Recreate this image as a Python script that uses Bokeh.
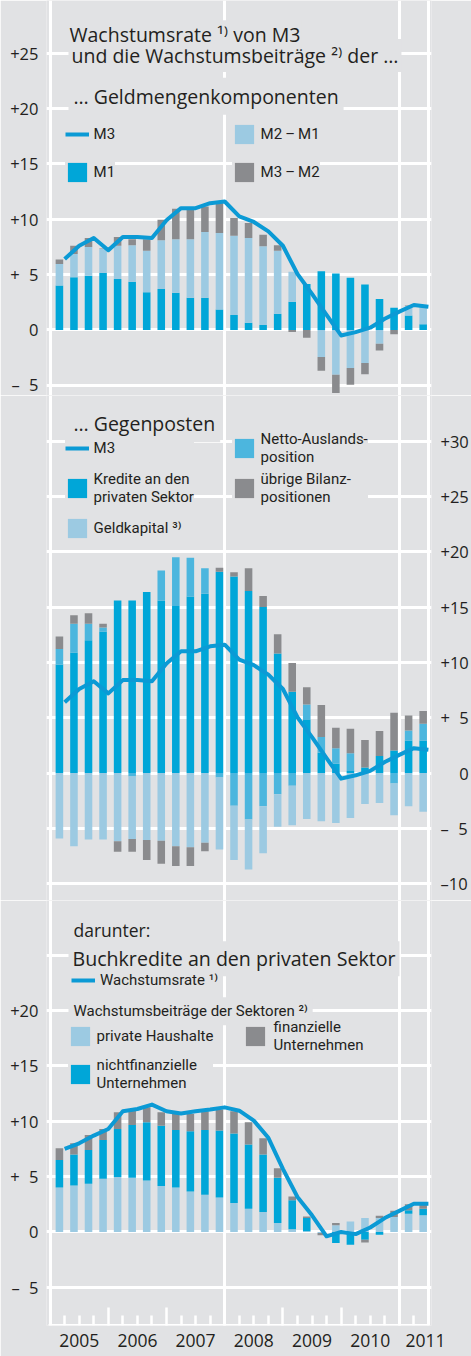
import numpy as np
from bokeh.plotting import figure
from bokeh.layouts import column
from bokeh.models import Range1d, FixedTicker, LinearAxis, Label, Legend, LegendItem
from bokeh.embed import file_html
from bokeh.resources import INLINE

# ---------------- data ----------------
quarters = ["2005Q1", "2005Q2", "2005Q3", "2005Q4",
            "2006Q1", "2006Q2", "2006Q3", "2006Q4",
            "2007Q1", "2007Q2", "2007Q3", "2007Q4",
            "2008Q1", "2008Q2", "2008Q3", "2008Q4",
            "2009Q1", "2009Q2", "2009Q3", "2009Q4",
            "2010Q1", "2010Q2", "2010Q3", "2010Q4",
            "2011Q1", "2011Q2"]
years = ["2005", "2006", "2007", "2008", "2009", "2010", "2011"]

# panel 1: M3 growth and contributions of monetary components
m3 = [6.4, 7.6, 8.3, 7.2, 8.4, 8.4, 8.3, 9.9, 11.0, 11.0, 11.45, 11.6, 10.25,
      9.75, 8.9, 7.6, 5.05, 3.25, 1.35, -0.5, -0.2, 0.2, 1.0, 1.65, 2.25, 2.1]
m1 = [4.0, 4.75, 4.9, 5.15, 4.6, 4.35, 3.4, 3.7, 3.35, 2.9, 2.9, 1.85, 1.35,
      0.65, 0.45, 1.45, 2.55, 4.15, 5.3, 5.1, 4.7, 4.1, 2.8, 2.0, 1.3, 0.5]
m2_m1 = [1.95, 2.1, 2.6, 2.15, 3.0, 3.3, 3.75, 4.4, 4.85, 5.3, 5.95, 6.9, 7.15,
         7.65, 7.1, 5.7, 2.7, 0.0, -2.45, -4.05, -3.45, -3.0, -1.25, 0.0, 0.85, 1.55]
m3_m2 = [0.4, 0.75, 0.8, 0.05, 0.8, 0.55, 1.05, 1.85, 2.75, 2.65, 2.3, 2.7, 1.6,
         1.35, 1.05, 0.5, -0.2, -0.7, -1.25, -1.65, -1.5, -1.0, -0.6, -0.4, 0.05, 0.0]

# panel 2: counterparts
kredite = [9.8, 10.9, 12.0, 12.8, 15.6, 15.6, 16.35, 15.6, 15.1, 15.95, 16.2, 18.2, 17.75,
           16.45, 15.0, 10.8, 7.35, 4.8, 1.85, 0.85, 0.2, 0.5, 1.55, 2.05, 2.95, 2.95]
netto = [1.4, 2.6, 1.5, 0.35, 0.0, -0.3, 0.0, 2.7, 4.4, 3.5, 2.3, -0.4, -2.95,
         -4.2, -3.0, -1.9, -1.15, 1.4, 1.4, 1.4, 1.6, 0.0, 0.0, -0.95, 0.9, 1.5]
geldkapital = [-5.9, -6.6, -6.0, -6.0, -6.15, -5.65, -6.05, -6.1, -6.6, -6.7, -6.3, -6.5, -4.9,
               -4.5, -4.25, -2.95, -3.55, -4.15, -4.35, -4.5, -4.05, -2.8, -2.7, -2.85, -3.0, -3.5]
uebrige = [1.15, 0.75, 0.95, 0.35, -0.95, -1.15, -1.8, -2.1, -1.8, -1.7, -0.75, 0.35, 0.4,
           2.05, 1.0, 1.75, 2.6, 1.55, 2.9, 1.85, 2.2, 2.5, 2.25, 3.4, 1.35, 1.15]

# panel 3: loans to the private sector
buch_rate = [7.5, 8.0, 8.7, 9.3, 10.9, 11.1, 11.5, 10.9, 10.7, 10.9, 11.05, 11.25, 10.95,
             10.05, 8.5, 5.7, 3.15, 1.5, -0.4, 0.0, -0.2, 0.4, 1.25, 1.9, 2.55, 2.55]
haushalte = [4.0, 4.2, 4.35, 4.8, 4.95, 4.9, 4.65, 4.15, 4.0, 3.65, 3.35, 3.1, 2.6,
             2.1, 1.8, 0.8, 0.25, 0.05, -0.1, 0.6, 0.95, 1.25, 1.25, 1.35, 1.65, 1.5]
nichtfin = [2.5, 2.8, 3.05, 3.5, 4.35, 4.75, 5.25, 5.45, 5.2, 5.45, 5.85, 6.05, 6.3,
            5.8, 5.2, 4.1, 2.6, 1.2, 0.0, -1.0, -1.15, -0.7, -0.25, 0.0, 0.3, 0.6]
finanz = [1.05, 1.0, 1.35, 1.0, 1.5, 1.35, 1.35, 1.2, 1.45, 1.55, 1.7, 1.9, 2.0,
          2.0, 1.45, 0.85, 0.35, 0.15, -0.2, 0.2, 0.0, -0.25, 0.2, 0.55, 0.55, 0.5]

ticks_p1 = [-5, 0, 5, 10, 15, 20, 25]
ticks_p2 = [-10, -5, 0, 5, 10, 15, 20, 25, 30]
ticks_p3 = [-5, 0, 5, 10, 15, 20]
grid_p3 = [-5, 0, 5, 10, 15, 20, 25]
labels_left = {25: "+25", 20: "+20", 15: "+15", 10: "+10", 5: "+\u20075", 0: "0",
               -5: "\u2013\u20075"}
labels_right = {30: "+30", 25: "+25", 20: "+20", 15: "+15", 10: "+10", 5: "+\u20075",
                0: "\u2007\u20070", -5: "\u2013\u20075", -10: "\u201310"}

# ---------------- style / layout ----------------
BG = "#e1e2e4"
TEXT = "#231f20"
BLUE = "#00a6d8"
LIGHT = "#9ccae2"
NETTO = "#4cb6de"
GRAY = "#8a8b8e"
LINE = "#0b9ad5"
FONT = "Open Sans"
LFONT = "Roboto"

PX_YEAR = 58.2      # pixels per year
X2005 = 49.6        # page x of 2005
FL, FR = 46, 431    # page x of frame edges
PPU = 11.07         # pixels per percentage point
W = 471
# (frame top, frame bottom, page y of zero)
P1 = (0, 395, 329.4)
P2 = (395, 900, 772.6)
P3 = (900, 1325, 1231.4)
AXIS_H = 31
LEG_DX, LEG_DY = 3, -3   # legend placement correction


def xv(xr):
    return 2005 + (xr - X2005) / PX_YEAR


def yv(panel, yr):
    return (panel[2] - yr) / PPU


q_end = np.array([int(q[:4]) + int(q[5]) * 0.25 for q in quarters])
bar_x = q_end - 0.09
BAR_W = 0.13


def stack(series):
    pos = np.zeros(len(quarters))
    neg = np.zeros(len(quarters))
    out = []
    for s in series:
        s = np.asarray(s, float)
        base = np.where(s >= 0, pos, neg)
        top = base + s
        pos = np.where(s >= 0, top, pos)
        neg = np.where(s < 0, top, neg)
        out.append((base, top))
    return out


def make_panel(panel, side, extra_bottom=0):
    top, bottom, zero = panel
    p = figure(width=W, height=int(bottom - top + extra_bottom),
               x_range=Range1d(xv(FL), xv(FR)),
               y_range=Range1d((zero - bottom) / PPU, (zero - top) / PPU),
               x_axis_location=None, y_axis_location=side,
               output_backend="svg", toolbar_location=None,
               min_border_left=FL, min_border_right=W - FR,
               min_border_top=0, min_border_bottom=extra_bottom,
               background_fill_color=BG, border_fill_color=BG, outline_line_color=None)
    p.xgrid.ticker = FixedTicker(ticks=[2005, 2008, 2011, 2011.5])
    p.xgrid.grid_line_color = "white"
    p.xgrid.grid_line_width = 3
    p.ygrid.grid_line_color = "white"
    p.ygrid.grid_line_width = 3
    return p


def style_yaxis(ax, ticks, labels, standoff):
    ax.ticker = FixedTicker(ticks=ticks)
    ax.major_label_overrides = labels
    ax.axis_line_color = None
    ax.major_tick_line_color = None
    ax.minor_tick_line_color = None
    ax.major_tick_in = 0
    ax.major_tick_out = 0
    ax.minor_tick_in = 0
    ax.minor_tick_out = 0
    ax.major_label_standoff = standoff
    ax.major_label_text_font = FONT
    ax.major_label_text_font_size = "16.5px"
    ax.major_label_text_color = TEXT


def bars(p, series, colors):
    rs = []
    for (b, t), c in zip(stack(series), colors):
        rs.append(p.vbar(x=bar_x, width=BAR_W, bottom=b, top=t,
                         fill_color=c, line_color=None))
    return rs


def add_text(p, panel, text, x_ref, y_ref, size, font=FONT, pad=5):
    p.add_layout(Label(x=xv(x_ref), y=yv(panel, y_ref), text=text, text_font=font,
                       text_font_size=size, text_color=TEXT, text_baseline="alphabetic",
                       text_align="left", background_fill_color=BG,
                       background_fill_alpha=1.0, padding=pad))


def add_legend(p, panel, entries, glyph_left, first_top, heights, spacing, standoff,
               pad=4, glyph_h=24):
    h = 2 * pad + sum(heights) + spacing * (len(heights) - 1)
    left = glyph_left + LEG_DX
    top = first_top + LEG_DY
    loc = (left - pad - FL, panel[1] - (top - pad + h))
    lg = Legend(items=[LegendItem(label=t, renderers=[r]) for t, r in entries],
                location=loc, orientation="vertical", glyph_width=24, glyph_height=glyph_h,
                label_standoff=standoff, spacing=spacing, padding=pad, margin=0,
                background_fill_color=BG, background_fill_alpha=1.0, border_line_color=None,
                label_text_font=LFONT, label_text_font_size="15px", label_text_color=TEXT,
                label_text_line_height=1.2, label_height=min(20, glyph_h), label_width=20)
    p.add_layout(lg)


ML = 36  # height of a two-line legend label

# ---------------- panel 1 ----------------
p1 = make_panel(P1, "left")
p1.ygrid.ticker = FixedTicker(ticks=ticks_p1)
style_yaxis(p1.yaxis[0], ticks_p1, labels_left, 8)
r_m1, r_m21, r_m32 = bars(p1, [m1, m2_m1, m3_m2], [BLUE, LIGHT, GRAY])
r_m3 = p1.line(x=q_end, y=m3, line_color=LINE, line_width=4, line_join="round")
add_text(p1, P1, "und die Wachstumsbeitr\u00e4ge \u00b2\u207e der \u2026", 68, 55, "19.5px", pad=3)
add_text(p1, P1, "Wachstumsrate \u00b9\u207e von M3", 68, 34.3, "19.5px", pad=1)
add_text(p1, P1, "\u2026 Geldmengenkomponenten", 68, 95.7, "19.5px")
add_legend(p1, P1, [("M3", r_m3), ("M1", r_m1)], 65.6, 121, [24, 24], 14, 5)
add_legend(p1, P1, [("M2\u2009\u2013\u2009M1", r_m21), ("M3\u2009\u2013\u2009M2", r_m32)],
           232.6, 121, [24, 24], 14, 5)

# ---------------- panel 2 ----------------
p2 = make_panel(P2, "right")
p2.ygrid.ticker = FixedTicker(ticks=ticks_p2)
style_yaxis(p2.yaxis[0], ticks_p2, labels_right, 9)
r_kr, r_ne, r_gk, r_ub = bars(p2, [kredite, netto, geldkapital, uebrige],
                              [BLUE, NETTO, LIGHT, GRAY])
r_m3b = p2.line(x=q_end, y=m3, line_color=LINE, line_width=4, line_join="round")
add_text(p2, P2, "\u2026 Gegenposten", 68, 423.3, "19.5px")
add_legend(p2, P2, [("M3", r_m3b), ("Kredite an den\nprivaten Sektor", r_kr),
                    ("Geldkapital \u00b3\u207e", r_gk)],
           65.6, 435, [24, ML, 24], 10, 5)
add_legend(p2, P2, [("Netto-Auslands-\nposition", r_ne), ("\u00fcbrige Bilanz-\npositionen", r_ub)],
           232.6, 428.5, [ML, ML], 4, 5)

# ---------------- panel 3 ----------------
p3 = make_panel(P3, "left", extra_bottom=AXIS_H)
p3.ygrid.ticker = FixedTicker(ticks=grid_p3)
style_yaxis(p3.yaxis[0], ticks_p3, labels_left, 8)
r_ph, r_nf, r_fu = bars(p3, [haushalte, nichtfin, finanz], [LIGHT, BLUE, GRAY])
r_br = p3.line(x=q_end, y=buch_rate, line_color=LINE, line_width=4, line_join="round")
add_legend(p3, P3, [("Wachstumsrate \u00b9\u207e", r_br)], 69, 979, [12], 0, 5,
           pad=1, glyph_h=12)
add_text(p3, P3, "darunter:", 68, 929, "17.5px")
add_text(p3, P3, "Buchkredite an den privaten Sektor", 68, 958.3, "19.6px", pad=4)
add_text(p3, P3, "Wachstumsbeitr\u00e4ge der Sektoren \u00b2\u207e", 68, 1010.7, "15px", font=LFONT)
add_legend(p3, P3, [("private Haushalte", r_ph), ("nichtfinanzielle\nUnternehmen", r_nf)],
           68.6, 1022.5, [24, ML], 8, 5)
add_legend(p3, P3, [("finanzielle\nUnternehmen", r_fu)], 243.6, 1016.5, [ML], 0, 7)

# x axis: year labels centred in each year
year_pos = [int(y) + 0.5 for y in years[:-1]] + [int(years[-1]) + 0.45]
ax_lab = LinearAxis(ticker=FixedTicker(ticks=year_pos),
                    major_label_overrides={pos: y for pos, y in zip(year_pos, years)})
ax_lab.axis_line_color = None
ax_lab.major_tick_line_color = None
ax_lab.minor_tick_line_color = None
ax_lab.major_tick_in = 0
ax_lab.major_tick_out = 0
ax_lab.minor_tick_in = 0
ax_lab.minor_tick_out = 0
ax_lab.major_label_standoff = 8
ax_lab.major_label_text_font = FONT
ax_lab.major_label_text_font_size = "17.5px"
ax_lab.major_label_text_color = TEXT
p3.add_layout(ax_lab, "below")

# x axis: year and quarter ticks on the base line
year_ticks = [int(y) for y in years[1:]]
quarter_ticks = [float(v) for v in q_end if v % 1 != 0 and v < 2011.5]
ax_tk = LinearAxis(ticker=FixedTicker(ticks=year_ticks, minor_ticks=quarter_ticks),
                   fixed_location=p3.y_range.start, bounds=(xv(48), xv(429)))
ax_tk.axis_line_color = "white"
ax_tk.axis_line_width = 3
ax_tk.major_tick_line_color = "white"
ax_tk.major_tick_line_width = 2.5
ax_tk.major_tick_in = 18
ax_tk.major_tick_out = 30
ax_tk.minor_tick_line_color = "white"
ax_tk.minor_tick_line_width = 2.5
ax_tk.minor_tick_in = 10
ax_tk.minor_tick_out = 0
ax_tk.major_label_text_color = None
p3.add_layout(ax_tk, "below")

layout = column(p1, p2, p3, spacing=0)
open("out.html", "w").write(file_html(layout, INLINE))
